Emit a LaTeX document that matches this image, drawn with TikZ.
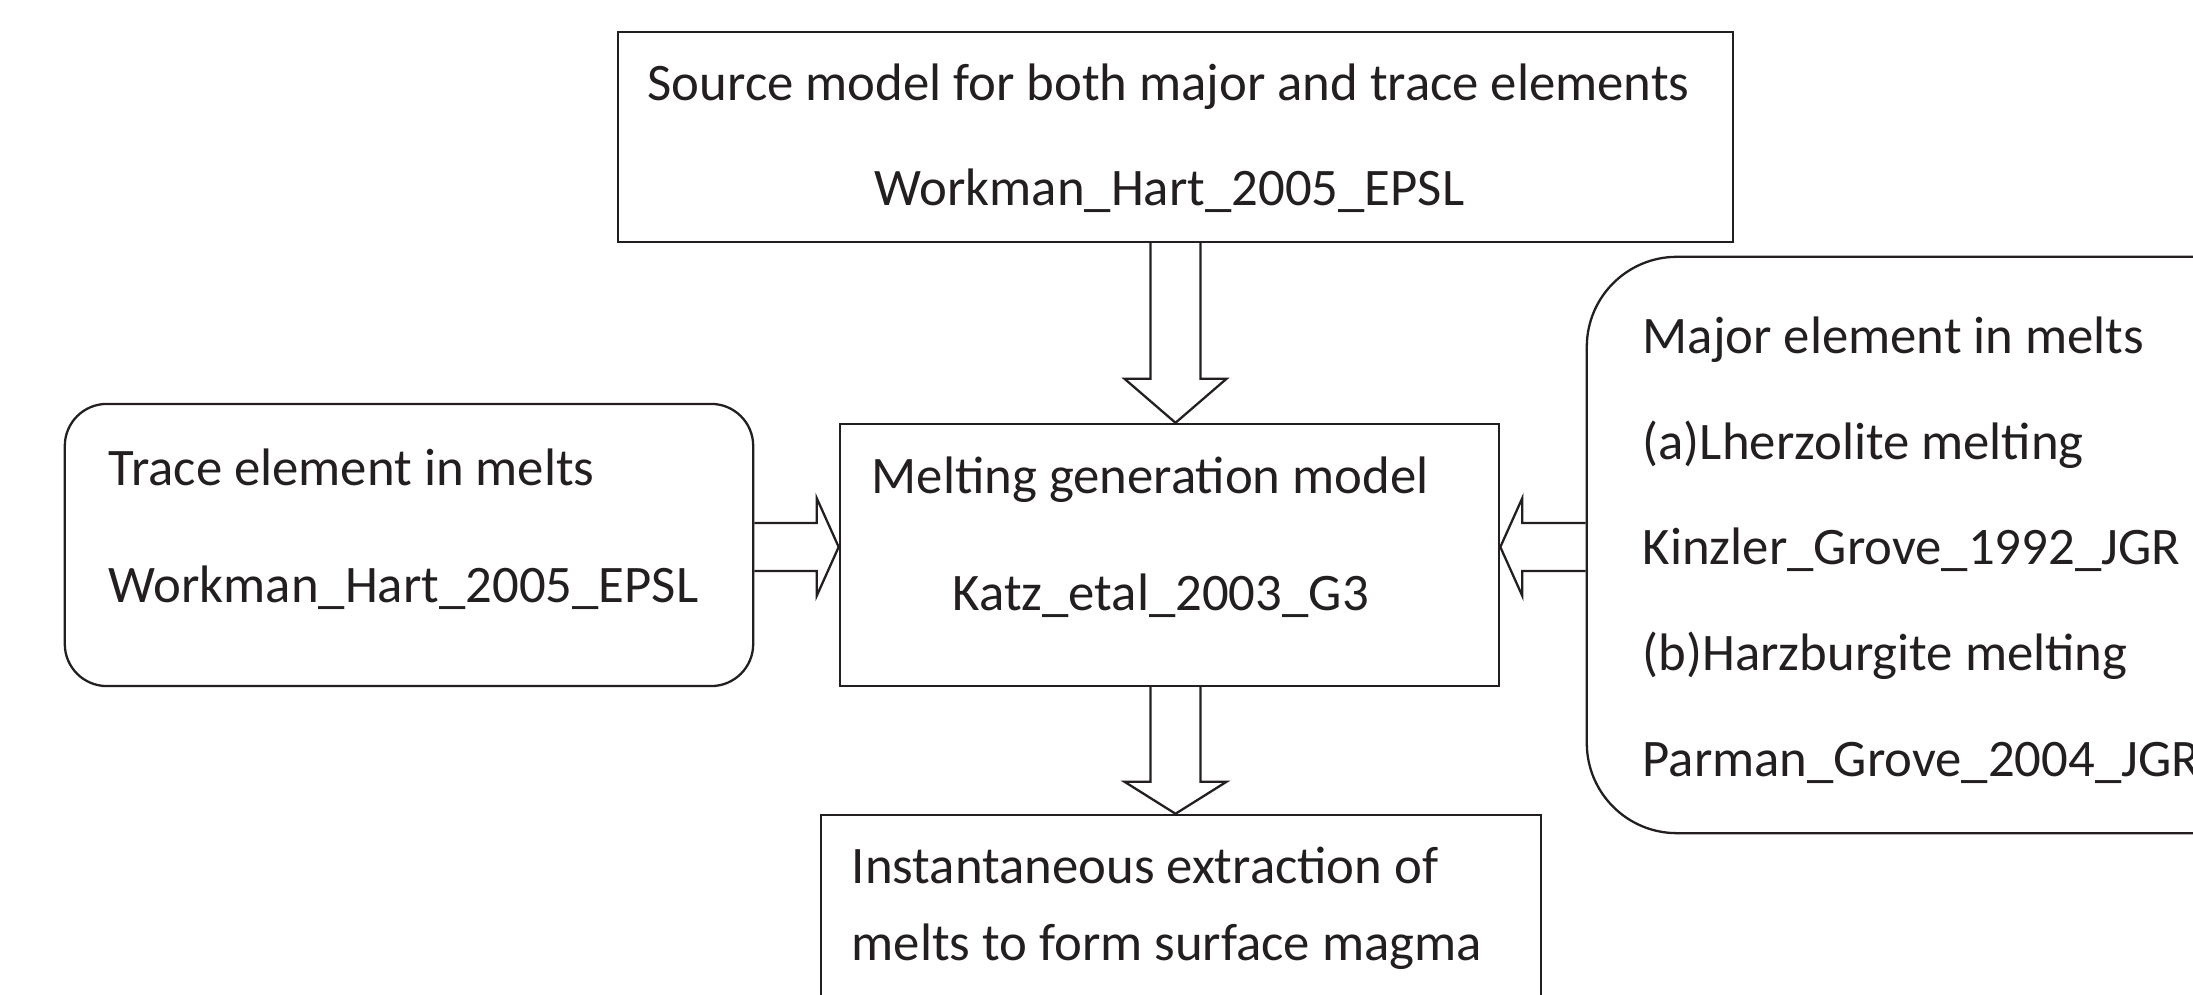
\documentclass[tikz,border=0pt]{standalone}
\usepackage{fontspec}
\setmainfont{Carlito}
\usetikzlibrary{calc, positioning}
\definecolor{ink}{RGB}{35,31,32}

\begin{document}
\begin{tikzpicture}[
        x=0.01cm, y=-0.01cm,
        every node/.style={font=\fontsize{15}{18}\selectfont, text=ink}, % todo el texto
        box/.style={draw=ink, line width=0.65pt, rectangle, inner sep=0pt},
        softbox/.style={box, rounded corners=0.42cm},
        bigbox/.style={box, rounded corners=0.9cm},
        txt/.style={anchor=base west, inner sep=0pt},
        fat/.style={draw=ink, line width=0.65pt, line join=miter}
    ]
        \useasboundingbox (0,0) rectangle (2193,995);
        \clip (0,0) rectangle (2193,995);

        % --- Cajas ---
        \node[box, minimum width=11.15cm, minimum height=2.1cm] (src) at (1175.5,137) {};
        \node[softbox, minimum width=6.88cm, minimum height=2.82cm] (trace) at (409,545) {};
        \node[box, minimum width=6.59cm, minimum height=2.62cm] (model) at (1169.5,555) {};
        \node[bigbox, minimum width=7cm, minimum height=5.76cm] (major) at (1937,545) {};
        \node[box, minimum width=7.2cm, minimum height=3cm] (extract) at (1181,965) {};

        % --- Textos ---
        \node[txt] (srcA) at (647,101) {Source model for both major and trace elements};
        \node[txt] (srcB) at (874,206) {Workman\_Hart\_2005\_EPSL};

        \node[txt] (traceA) at (108,486) {Trace element in melts};
        \node[txt] (traceB) at (108,603) {Workman\_Hart\_2005\_EPSL};

        \node[txt] (modelA) at (871,494) {Melting generation model};
        \node[txt] (modelB) at (952,611) {Katz\_etal\_2003\_G3};

        \node[txt] (majorA) at (1642,354) {Major element in melts};
        \node[txt] (majorB) at (1642,460) {(a)Lherzolite melting};
        \node[txt] (majorC) at (1642,565) {Kinzler\_Grove\_1992\_JGR};
        \node[txt] (majorD) at (1642,671) {(b)Harzburgite melting};
        \node[txt] (majorE) at (1642,777) {Parman\_Grove\_2004\_JGR};

        \node[txt] (extractA) at (851,884) {Instantaneous extraction of};
        \node[txt] (extractB) at (851,961) {melts to form surface magma};

        % --- Flechas gruesas ---
        % fuente -> modelo
        \coordinate (a1) at (src.south);
        \coordinate (a2) at (a1 |- model.north);
        \draw[fat] ($(a1)+(-25,0)$) -- ($(a2)+(-25,-44)$) -- ($(a2)+(-51,-44)$) -- (a2)
            -- ($(a2)+(51,-44)$) -- ($(a2)+(25,-44)$) -- ($(a1)+(25,0)$);

        % traza -> modelo
        \coordinate (b1) at ($(trace.east)+(0,2)$);
        \coordinate (b2) at (b1 -| model.west);
        \draw[fat] ($(b1)+(0,-24)$) -- ($(b2)+(-22,-24)$) -- ($(b2)+(-22,-49)$) -- (b2)
            -- ($(b2)+(-22,49)$) -- ($(b2)+(-22,24)$) -- ($(b1)+(0,24)$);

        % mayores -> modelo
        \coordinate (c1) at (major.west |- b1);
        \coordinate (c2) at (b1 -| model.east);
        \draw[fat] ($(c1)+(0,-24)$) -- ($(c2)+(22,-24)$) -- ($(c2)+(22,-49)$) -- (c2)
            -- ($(c2)+(22,49)$) -- ($(c2)+(22,24)$) -- ($(c1)+(0,24)$);

        % modelo -> extraccion
        \coordinate (d1) at (a1 |- model.south);
        \coordinate (d2) at (a1 |- extract.north);
        \draw[fat] ($(d1)+(-25,0)$) -- ($(d2)+(-25,-32)$) -- ($(d2)+(-51,-32)$) -- (d2)
            -- ($(d2)+(51,-32)$) -- ($(d2)+(25,-32)$) -- ($(d1)+(25,0)$);
\end{tikzpicture}
\end{document}
